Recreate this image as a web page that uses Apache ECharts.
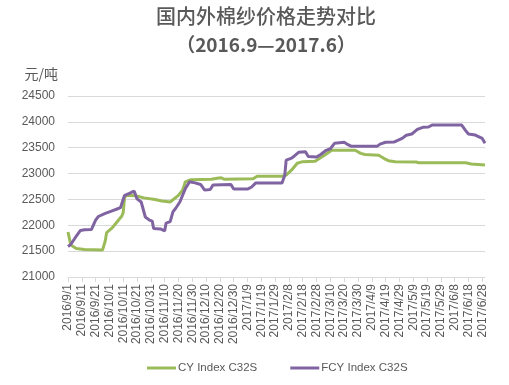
<!DOCTYPE html>
<html>
<head>
<meta charset="utf-8">
<script src="https://cdn.jsdelivr.net/npm/echarts@6/dist/echarts.min.js"></script>
<style>html,body{margin:0;padding:0;background:#fff;}#c{width:509px;height:385px;}</style>
</head>
<body>
<div id="c"></div>
<script>
var titleText = '国内外棉纱价格走势对比';
var subTitleText = '（2016.9—2017.6）';
var yName = '元/吨';
var seriesNames = ['CY Index C32S', 'FCY Index C32S'];
var axisStart = '2016-09-01';
var axisEnd = '2017-06-30';
var lastLabel = '2017-06-28';

var cyDates = ['2016-09-01','2016-09-03','2016-09-07','2016-09-13','2016-09-26','2016-09-28','2016-09-29','2016-10-03','2016-10-10','2016-10-11','2016-10-12','2016-10-14','2016-10-20','2016-10-26','2016-11-03','2016-11-08','2016-11-14','2016-11-20','2016-11-23','2016-11-25','2016-11-29','2016-12-14','2016-12-18','2016-12-21','2016-12-23','2017-01-13','2017-01-16','2017-02-03','2017-02-06','2017-02-10','2017-02-14','2017-02-18','2017-02-27','2017-03-02','2017-03-06','2017-03-11','2017-03-28','2017-04-01','2017-04-04','2017-04-14','2017-04-18','2017-04-21','2017-04-26','2017-05-11','2017-05-13','2017-06-16','2017-06-20','2017-06-30'];
var cyValues = [21870,21620,21550,21530,21520,21700,21860,21950,22180,22250,22550,22580,22570,22530,22500,22470,22450,22580,22680,22840,22880,22890,22910,22920,22890,22900,22950,22950,22970,23070,23200,23230,23240,23290,23360,23450,23450,23390,23370,23355,23290,23250,23230,23225,23210,23210,23185,23165];

var fcyDates = ['2016-09-01','2016-09-03','2016-09-06','2016-09-10','2016-09-13','2016-09-18','2016-09-21','2016-09-23','2016-09-28','2016-10-02','2016-10-07','2016-10-09','2016-10-10','2016-10-12','2016-10-15','2016-10-17','2016-10-19','2016-10-20','2016-10-21','2016-10-24','2016-10-27','2016-10-30','2016-11-01','2016-11-02','2016-11-07','2016-11-10','2016-11-11','2016-11-14','2016-11-16','2016-11-18','2016-11-21','2016-11-25','2016-11-28','2016-12-02','2016-12-06','2016-12-09','2016-12-13','2016-12-15','2016-12-28','2016-12-30','2017-01-09','2017-01-12','2017-01-15','2017-02-03','2017-02-05','2017-02-06','2017-02-10','2017-02-12','2017-02-15','2017-02-20','2017-02-22','2017-02-28','2017-03-03','2017-03-07','2017-03-10','2017-03-13','2017-03-20','2017-03-22','2017-03-25','2017-04-13','2017-04-15','2017-04-19','2017-04-25','2017-05-01','2017-05-04','2017-05-08','2017-05-12','2017-05-16','2017-05-20','2017-05-23','2017-06-13','2017-06-16','2017-06-18','2017-06-23','2017-06-28','2017-06-30'];
var fcyValues = [21590,21630,21750,21900,21915,21920,22100,22170,22230,22270,22320,22340,22420,22580,22610,22640,22660,22580,22510,22450,22160,22100,22080,21940,21930,21890,22040,22070,22260,22330,22450,22710,22840,22820,22790,22680,22690,22780,22790,22700,22700,22740,22820,22820,22970,23260,23300,23340,23410,23420,23330,23320,23370,23450,23480,23585,23605,23570,23530,23530,23570,23605,23610,23680,23740,23765,23855,23895,23900,23940,23940,23830,23765,23745,23680,23585];

var DAY = 86400000;
function ts(s){ var p = s.split('-'); return Date.UTC(+p[0], +p[1]-1, +p[2]); }
var t0 = ts(axisStart);
function idx(s){ return Math.round((ts(s) - t0) / DAY); }
function fmt(v){ var d = new Date(t0 + v * DAY); return d.getUTCFullYear() + '/' + (d.getUTCMonth()+1) + '/' + d.getUTCDate(); }
function pairs(dates, vals){ return dates.map(function(d,i){ return [idx(d), vals[i]]; }); }

var maxDay = idx(axisEnd);
var lastTick = idx(lastLabel);
var tickVals = [];
for (var v = 0; v <= lastTick; v += 10) tickVals.push(v);

var chart = echarts.init(document.getElementById('c'), null, {renderer:'canvas'});
chart.setOption({
  animation: false,
  backgroundColor: '#fff',
  title: [
    {text: titleText, left: 266, top: 6, textAlign: 'center', padding: 0,
     textStyle: {fontFamily: 'Noto Sans CJK SC', fontSize: 20, fontWeight: 500, color: '#595959'}},
    {text: subTitleText, left: 266, top: 35, textAlign: 'center', padding: 0,
     textStyle: {fontFamily: 'Noto Sans CJK SC', fontSize: 19, fontWeight: 'bold', color: '#595959'}}
  ],
  grid: {left: 68, right: 24, top: 96, bottom: 108, containLabel: false},
  legend: {
    left: 147, top: 362, padding: 0, icon: 'rect', itemWidth: 29, itemHeight: 3, itemGap: 33,
    textStyle: {fontFamily: 'Liberation Sans', fontSize: 11.5, color: '#595959', padding: [0,0,0,-3]},
    data: seriesNames
  },
  xAxis: {
    type: 'value', min: 0, max: maxDay, interval: 10,
    splitLine: {show: false},
    axisLine: {lineStyle: {color: '#d9d9d9'}},
    axisTick: {show: true, length: 5, customValues: tickVals, lineStyle: {color: '#d9d9d9'}},
    axisLabel: {rotate: 90, margin: 7, customValues: tickVals, fontFamily: 'Liberation Sans', fontSize: 12, color: '#595959',
      formatter: function(v){ return fmt(v); }}
  },
  yAxis: {
    type: 'value', min: 21000, max: 24500, interval: 500,
    name: yName, nameLocation: 'end', nameGap: 15,
    nameTextStyle: {fontFamily: 'Noto Sans CJK SC', fontSize: 14, color: '#595959', align: 'right', padding: [0, 10, 0, 0]},
    axisLine: {show: false}, axisTick: {show: false},
    splitLine: {lineStyle: {color: '#d9d9d9', width: 1}},
    axisLabel: {margin: 13, fontFamily: 'Liberation Sans', fontSize: 12, color: '#595959',
      formatter: function(v){ return String(v); }}
  },
  series: [
    {name: seriesNames[0], type: 'line', data: pairs(cyDates, cyValues), showSymbol: false, symbol: 'none',
     lineStyle: {width: 3, color: '#9bbb59'}, itemStyle: {color: '#9bbb59'}},
    {name: seriesNames[1], type: 'line', data: pairs(fcyDates, fcyValues), showSymbol: false, symbol: 'none',
     lineStyle: {width: 3, color: '#8064a2'}, itemStyle: {color: '#8064a2'}}
  ]
});
</script>
</body>
</html>
